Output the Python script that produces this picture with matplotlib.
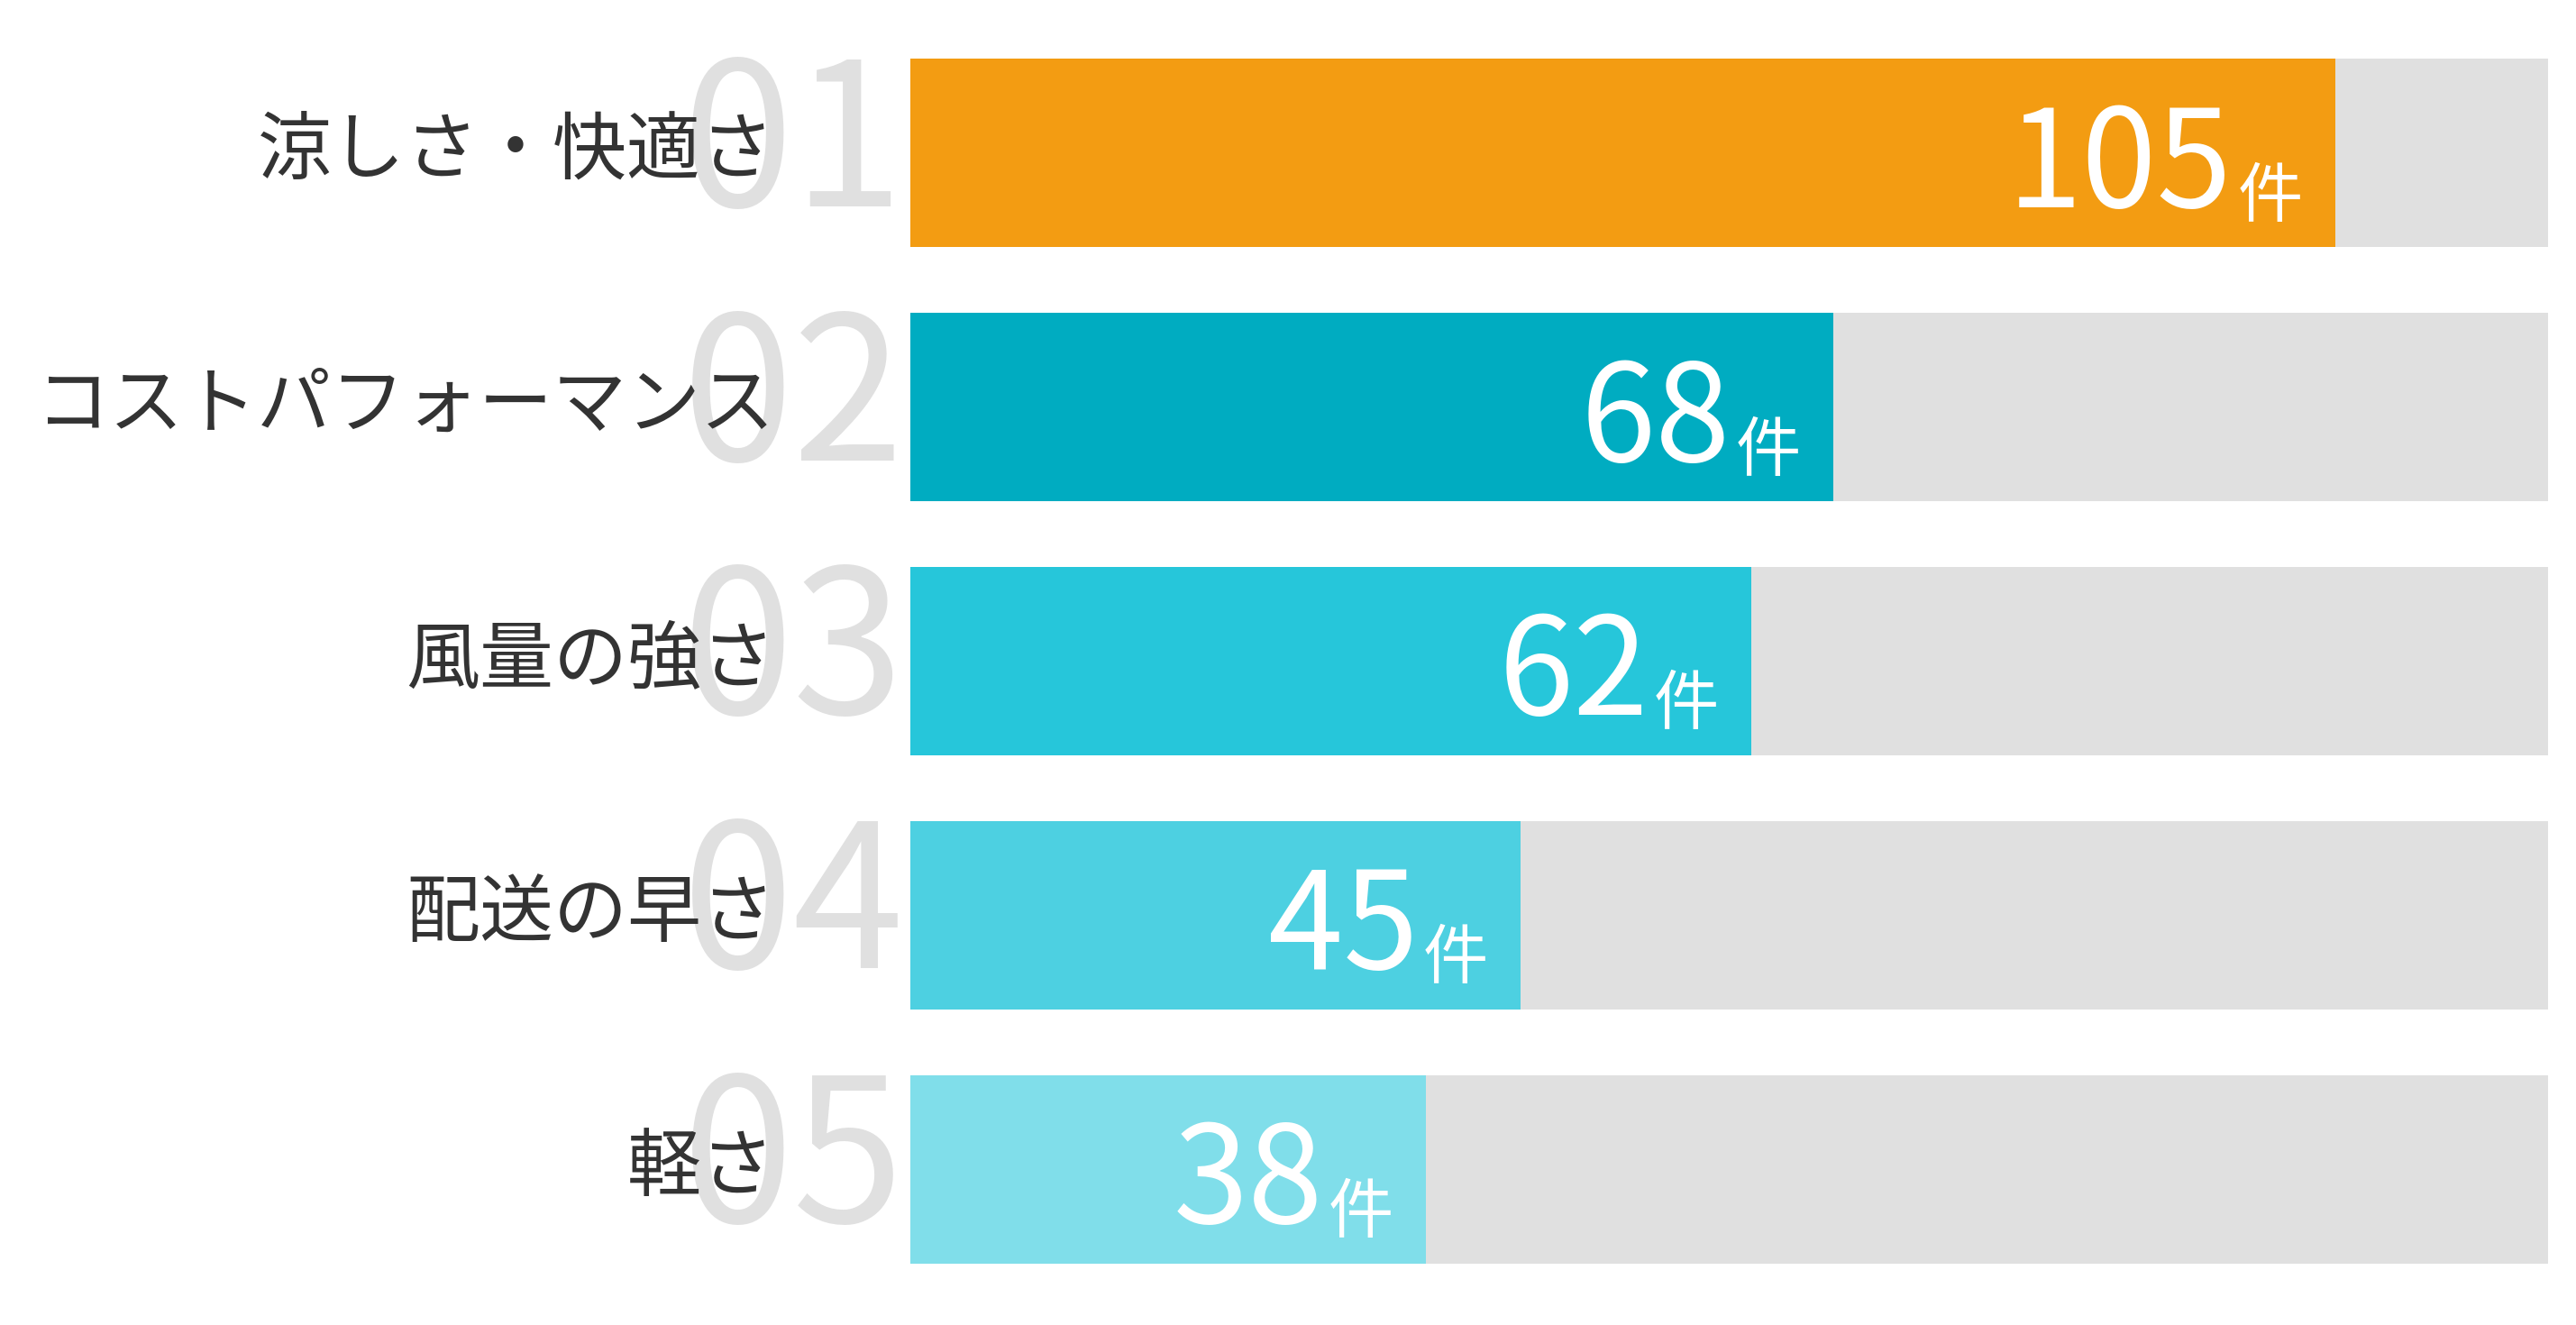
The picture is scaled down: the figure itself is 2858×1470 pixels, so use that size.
import matplotlib
matplotlib.use("Agg")
import matplotlib.pyplot as plt
import numpy as np

plt.rcParams["font.family"] = ["Noto Sans CJK JP", "DejaVu Sans"]

labels = ["涼しさ・快適さ", "コストパフォーマンス", "風量の強さ", "配送の早さ", "軽さ"]
ranks = ["01", "02", "03", "04", "05"]
counts = [105, 68, 62, 45, 38]
unit = "件"
track_max = 120.7

colors = ["#F39C12", "#00ACC1", "#26C6DA", "#4DD0E1", "#80DEEA"]
TRACK = "#E0E0E0"
INK = "#333333"
RANK_C = "#E0E0E0"

W, H, DPI = 2858, 1470, 100
fig = plt.figure(figsize=(W / DPI, H / DPI), dpi=DPI)
fig.patch.set_facecolor("white")

# axes spans exactly the bar tracks
ax = fig.add_axes([1010 / W, 68 / H, 1817 / W, 1337 / H])
bar_h = 0.743
ax.set_xlim(0, track_max)
ax.set_ylim(len(counts) - 1 + bar_h / 2, -bar_h / 2)
ax.axis("off")

y = np.arange(len(counts))
ax.barh(y, [track_max] * len(counts), height=bar_h, color=TRACK, linewidth=0)
ax.barh(y, counts, height=bar_h, color=colors, linewidth=0)

for i, (lab, rk, v) in enumerate(zip(labels, ranks, counts)):
    # big pale rank number behind the label
    ax.annotate(rk, xy=(0, i), xytext=(-6, 4), textcoords="offset pixels",
                ha="right", va="center", fontsize=160, color=RANK_C,
                annotation_clip=False, zorder=1)
    # category label
    ax.annotate(lab, xy=(0, i), xytext=(-150, 1), textcoords="offset pixels",
                ha="right", va="center", fontsize=59, color=INK,
                annotation_clip=False, zorder=2)
    # value + unit inside bar
    ax.annotate(unit, xy=(v, i), xytext=(-36, -70), textcoords="offset pixels",
                ha="right", va="baseline", fontsize=52, color="white",
                annotation_clip=False, zorder=3)
    ax.annotate(str(v), xy=(v, i), xytext=(-114, -60), textcoords="offset pixels",
                ha="right", va="baseline", fontsize=108, color="white",
                annotation_clip=False, zorder=3)

fig.savefig("out.png", dpi=DPI, facecolor="white")
